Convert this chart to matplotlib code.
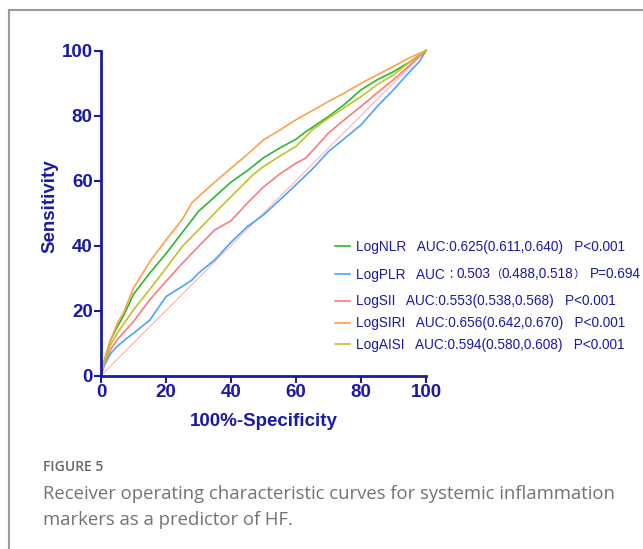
import matplotlib.pyplot as plt
from matplotlib.lines import Line2D

plt.rcParams['font.family'] = ['Liberation Sans', 'Noto Sans CJK SC', 'DejaVu Sans']

# ROC curves (100%-Specificity, Sensitivity)
x_nlr = [0, 1, 2, 3, 5, 7, 10, 15, 20, 25, 30, 35, 40, 45, 50, 55, 60, 63, 70, 75, 80, 85, 90, 95, 100]
y_nlr = [0, 4.5, 8, 11, 15, 18.5, 25, 31.5, 37.5, 44, 50.5, 55, 59.5, 63, 67, 70, 72.7, 75, 79.7, 83.5, 87.9, 91, 93.5, 96.5, 100]

x_plr = [0, 1, 2, 3, 5, 8, 10, 15, 20, 25, 28, 30, 35, 40, 45, 50, 55, 60, 65, 70, 75, 80, 85, 90, 95, 98, 100]
y_plr = [0, 3, 5, 6.8, 9, 11.5, 13, 17, 24.3, 27.4, 29.4, 31.5, 35.6, 41, 45.8, 49.4, 54, 58.7, 63.5, 68.9, 73, 77.1, 82.8, 87.9, 93.5, 96.6, 100]

x_sii = [0, 1, 2, 3, 5, 10, 15, 20, 25, 30, 35, 40, 45, 50, 55, 60, 63, 70, 75, 80, 85, 90, 95, 100]
y_sii = [0, 3.5, 6, 8, 11, 16.6, 23.3, 29, 34.5, 39.7, 44.8, 47.6, 53, 58, 62, 65.3, 66.9, 74.6, 78.8, 82.8, 87, 91, 95.5, 100]

x_siri = [0, 1, 2, 3, 5, 7, 10, 15, 20, 25, 28, 30, 35, 40, 45, 50, 55, 60, 65, 70, 75, 80, 85, 90, 95, 100]
y_siri = [0, 4.5, 8, 11, 16, 19.5, 26.9, 35, 41.7, 48, 53.2, 55, 59.5, 63.8, 68, 72.5, 75.5, 78.7, 81.5, 84.3, 87, 89.9, 92.5, 95.1, 97.8, 100]

x_aisi = [0, 1, 2, 3, 5, 10, 15, 20, 25, 30, 35, 40, 47, 50, 55, 60, 63, 65, 70, 75, 80, 85, 90, 95, 100]
y_aisi = [0, 4, 7, 9.5, 13, 20.2, 26.5, 33, 39.7, 44.8, 50, 55, 62, 64.3, 67.5, 70.5, 73.5, 75.6, 79.2, 82.5, 85.8, 89.5, 92.5, 96.5, 100]

labels = [
    'LogNLR   AUC:0.625(0.611,0.640)   P<0.001',
    'LogPLR   AUC\uff1a0.503\uff080.488,0.518\uff09 P=0.694',
    'LogSII   AUC:0.553(0.538,0.568)   P<0.001',
    'LogSIRI   AUC:0.656(0.642,0.670)   P<0.001',
    'LogAISI   AUC:0.594(0.580,0.608)   P<0.001',
]
colors = ['#2db82d', '#4aa3ff', '#ff7a7a', '#ffa04a', '#c3c02e']
axis_color = '#1a1aa6'
FULLWIDTH = '\uff1a\uff08\uff09'

fig = plt.figure(figsize=(6.43, 5.49), dpi=100)
ax = fig.add_axes([101 / 643, 1 - 375.5 / 549, 325 / 643, 325 / 549])

ax.plot([0, 100], [0, 100], color='#ffb0b0', lw=0.8, clip_on=False)
series = [(x_nlr, y_nlr), (x_plr, y_plr), (x_sii, y_sii), (x_siri, y_siri), (x_aisi, y_aisi)]
for (xs, ys), c in zip(series, colors):
    ax.plot(xs, ys, color=c, lw=1.2, clip_on=False)

ax.set_xlim(0, 100)
ax.set_ylim(0, 100)
ax.set_xticks(range(0, 101, 20))
ax.set_yticks(range(0, 101, 20))
for s in ['top', 'right']:
    ax.spines[s].set_visible(False)
for s in ['left', 'bottom']:
    ax.spines[s].set_color(axis_color)
    ax.spines[s].set_linewidth(2)
ax.tick_params(colors=axis_color, width=1.5, length=5, labelsize=13.5, pad=1)
for t in ax.get_xticklabels() + ax.get_yticklabels():
    t.set_fontweight('bold')
ax.set_xlabel('100%-Specificity', color=axis_color, fontsize=13.5, fontweight='bold', labelpad=9)
ax.set_ylabel('Sensitivity', color=axis_color, fontsize=13.5, fontweight='bold')
ax.yaxis.set_label_coords(-0.13, 0.52)

# legend entries with uneven spacing, as in the figure
renderer = fig.canvas.get_renderer()
legend_y = [246, 274, 301, 323, 344]
for lab, c, py in zip(labels, colors, legend_y):
    yf = 1 - py / 549
    base = 1 - (py + 4.5) / 549
    fig.add_artist(Line2D([335 / 643, 350 / 643], [yf, yf], color=c, lw=1.2))
    if not any(ch in lab for ch in FULLWIDTH):
        fig.text(356 / 643, base, lab, color=axis_color, fontsize=9.8, va='baseline', ha='left')
        continue
    # full-width punctuation is drawn narrow in the original: lay the
    # pieces out one after another with the punctuation a bit smaller
    pieces, cur = [], ''
    for ch in lab:
        if ch in FULLWIDTH:
            pieces += [cur, ch]
            cur = ''
        else:
            cur += ch
    pieces.append(cur)
    px = 356
    for txt in pieces:
        if not txt:
            continue
        if txt in FULLWIDTH:
            t = fig.text(px / 643, base + 1 / 549, txt, color=axis_color, fontsize=8.2,
                         va='baseline', ha='left', family=['Noto Sans CJK TC'])
        else:
            if txt.startswith(' '):
                px += 5
            t = fig.text(px / 643, base, txt.strip(), color=axis_color, fontsize=9.8,
                         va='baseline', ha='left')
        px = t.get_window_extent(renderer).x1

# frame lines of the page
fig.add_artist(Line2D([9 / 643, 1], [1 - 10 / 549, 1 - 10 / 549], color='#9a9a9a', lw=1.5))
fig.add_artist(Line2D([9 / 643, 9 / 643], [0, 1 - 10 / 549], color='#9a9a9a', lw=1.5))

fig.text(43 / 643, 1 - 467 / 549, 'FIGURE 5', color='#666666', fontsize=10,
         family='Open Sans', fontweight='semibold', va='center')
fig.text(43 / 643, 1 - 494 / 549, 'Receiver operating characteristic curves for systemic inflammation',
         color='#737373', fontsize=13.35, family='Open Sans', va='center')
fig.text(43 / 643, 1 - 520 / 549, 'markers as a predictor of HF.',
         color='#737373', fontsize=13.35, family='Open Sans', va='center')

fig.savefig('out.png', dpi=100)
